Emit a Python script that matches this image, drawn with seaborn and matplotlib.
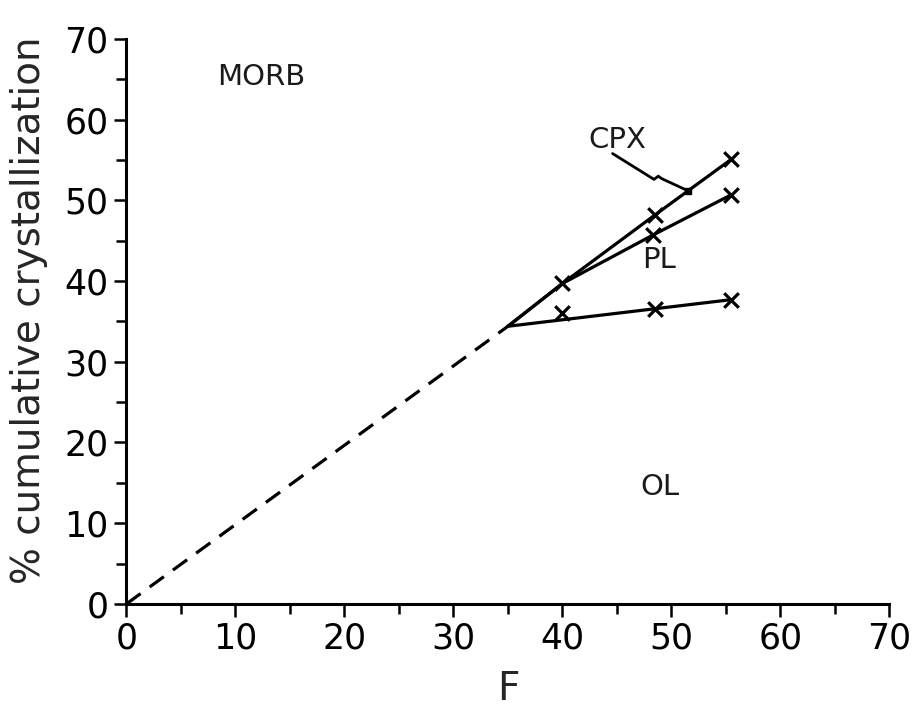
import matplotlib
matplotlib.use("Agg")
import matplotlib.pyplot as plt
import seaborn as sns
import pandas as pd

# ---- data ----
dash_F = [0.0, 35.0]
dash_C = [0.0, 34.4]

cpx_F = [35.0, 40.0, 48.5, 55.5]
cpx_C = [34.4, 39.7, 48.2, 55.1]

pl_F = [35.0, 40.0, 48.3, 55.5]
pl_C = [34.4, 39.7, 45.7, 50.7]

ol_line_F = [35.0, 55.5]
ol_line_C = [34.4, 37.7]
ol_F = [40.0, 48.5, 55.5]
ol_C = [36.0, 36.6, 37.7]

leader_F = [44.6, 48.4, 48.8, 49.1, 51.5]
leader_C = [55.8, 52.6, 53.0, 52.7, 51.2]

labels = {"MORB": (12.4, 65.3), "CPX": (45.0, 57.5), "PL": (48.9, 42.6), "OL": (48.9, 14.5)}

ticks = [0, 10, 20, 30, 40, 50, 60, 70]

# ---- plot ----
sns.set_style("ticks")
plt.rcParams['font.family'] = ['DejaVu Sans']

fig = plt.figure(figsize=(9.16, 7.08), dpi=100)
ax = fig.add_axes([0.138, 0.147, 0.833, 0.798])

lw = 2.3
sns.lineplot(x=dash_F, y=dash_C, ax=ax, color="black", lw=lw, linestyle=(0, (5.5, 3.5)), sort=False)
sns.lineplot(x=cpx_F, y=cpx_C, ax=ax, color="black", lw=lw, sort=False)
sns.lineplot(x=pl_F, y=pl_C, ax=ax, color="black", lw=lw, sort=False)
sns.lineplot(x=ol_line_F, y=ol_line_C, ax=ax, color="black", lw=lw, sort=False)

mk_F = cpx_F[1:] + pl_F[2:] + ol_F
mk_C = cpx_C[1:] + pl_C[2:] + ol_C
ax.scatter(mk_F, mk_C, marker="x", s=110, color="black", linewidths=2.3, zorder=5)

ax.plot(leader_F, leader_C, color="black", lw=2.0)
ax.plot([leader_F[-1]], [leader_C[-1]], marker="s", ms=5, color="black")

for txt, (xx, yy) in labels.items():
    ax.text(xx, yy, txt, fontsize=21, ha="center", va="center", color="#1a1a1a")

ax.set_xlim(0, 70)
ax.set_ylim(0, 70)
ax.set_xticks(ticks)
ax.set_yticks(ticks)
ax.set_xticks(range(5, 70, 10), minor=True)
ax.set_yticks(range(5, 70, 10), minor=True)
ax.tick_params(axis="both", which="major", labelsize=25, length=9, width=1.8, colors="black", pad=4)
ax.tick_params(axis="both", which="minor", length=7, width=1.8, colors="black")
for s in ["left", "bottom"]:
    ax.spines[s].set_linewidth(2.2)
    ax.spines[s].set_color("black")
sns.despine(ax=ax)

ax.set_xlabel("F", fontsize=28, labelpad=10)
ax.set_ylabel("% cumulative crystallization", fontsize=28)
ax.yaxis.set_label_coords(-0.103, 0.52)

fig.savefig("out.png", dpi=100)
